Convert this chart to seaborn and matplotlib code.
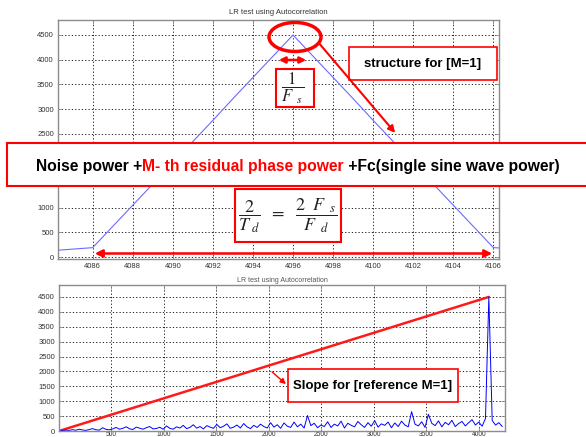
import numpy as np
import matplotlib
matplotlib.use("Agg")
import matplotlib.pyplot as plt
import seaborn as sns
from matplotlib.patches import Rectangle, Ellipse

# ---- data ----
# top panel: autocorrelation around the peak
lag_top = [4084, 4085, 4086, 4087, 4088, 4089, 4090, 4091, 4092, 4093, 4094, 4095,
           4096, 4097, 4098, 4099, 4100, 4101, 4102, 4103, 4104, 4105, 4106, 4107]
acf_top = [130, 160, 190, 620, 1050, 1480, 1910, 2340, 2770, 3210, 3640, 4070,
           4500, 4070, 3640, 3210, 2770, 2340, 1910, 1480, 1050, 620, 190, 170]

# bottom panel: whole lag range, noisy floor with the peak at 4096
lag_step = 32
acf_noise = [0, 15, 30, 20, 45, 25, 60, 35, 20, 50, 80, 40, 30, 110, 55, 40,
             70, 120, 60, 90, 140, 75, 50, 130, 95, 60, 110, 150, 70, 85, 125, 60,
             170, 90, 60, 140, 100, 190, 80, 120, 210, 95, 150, 70, 180, 130, 90, 220,
             110, 160, 240, 90, 130, 200, 100, 250, 140, 80, 190, 120, 230, 150, 100, 280,
             130, 210, 90, 270, 160, 120, 300, 140, 230, 100, 520, 180, 260, 110, 200, 150,
             310, 120, 230, 170, 330, 100, 260, 190, 140, 320, 210, 120, 280, 160, 350, 130,
             240, 190, 300, 110, 270, 150, 330, 200, 140, 650, 230, 170, 310, 120, 560, 260,
             180, 340, 140, 290, 210, 360, 150, 250, 320, 170, 280, 380, 200, 300, 160, 420,
             4500, 350, 200, 280, 150]
slope_x = [0, 4096]
slope_y = [0, 4500]

top_xticks = [4086, 4088, 4090, 4092, 4094, 4096, 4098, 4100, 4102, 4104, 4106]
yticks = [0, 500, 1000, 1500, 2000, 2500, 3000, 3500, 4000, 4500]
bot_xticks = [500, 1000, 1500, 2000, 2500, 3000, 3500, 4000]
title = "LR test using Autocorrelation"

sns.set_theme(style="white")
plt.rcParams['font.family'] = ['Liberation Sans Narrow', 'Liberation Sans', 'DejaVu Sans']
plt.rcParams['mathtext.fontset'] = 'stix'

W, H = 586, 437
fig = plt.figure(figsize=(W / 100, H / 100), dpi=100)
fig.patch.set_facecolor("white")


def px_axes(x0, y0, x1, y1):
    return fig.add_axes([x0 / W, 1 - y1 / H, (x1 - x0) / W, (y1 - y0) / H])


def matlab_style(ax, pad=3):
    ax.set_facecolor("white")
    ax.grid(True, color="black", linestyle=(0, (1.5, 2.5)), linewidth=0.6)
    for s in ax.spines.values():
        s.set_color("#8c8c8c")
        s.set_linewidth(1.0)
    ax.tick_params(direction="in", length=3, width=0.6, colors="#8c8c8c",
                   labelcolor="#333333", labelsize=5.5, pad=3,
                   top=True, right=True, bottom=True, left=True)
    ax.tick_params(axis="x", pad=pad)


ax1 = px_axes(58, 20, 499, 259)
sns.lineplot(x=lag_top, y=acf_top, ax=ax1, color="#6b6bff", linewidth=0.8)
ax1.set_xlim(4084.27, 4106.28)
ax1.set_ylim(-40, 4804)
ax1.set_xticks(top_xticks)
ax1.set_yticks(yticks)
matlab_style(ax1)
ax1.set_title(title, fontsize=5.5, color="#333333", pad=4)

ax2 = px_axes(59, 285, 505, 431)
lag_all = np.arange(len(acf_noise)) * lag_step
sns.lineplot(x=slope_x, y=slope_y, ax=ax2, color="#ff1a1a", linewidth=1.8)
sns.lineplot(x=lag_all, y=acf_noise, ax=ax2, color="#0000ff", linewidth=0.7)
ax2.set_xlim(0, 4250)
ax2.set_ylim(0, 4900)
ax2.set_xticks(bot_xticks)
ax2.set_yticks(yticks)
matlab_style(ax2, pad=0.3)
ax2.tick_params(axis="x", labelsize=4.8)
ax2.set_title(title, fontsize=5, color="#555555", pad=2)

# ---- overlay for the hand-drawn annotations (pixel coordinates) ----
ov = fig.add_axes([0, 0, 1, 1], zorder=10)
ov.set_xlim(0, W)
ov.set_ylim(H, 0)
ov.axis("off")
RED = "#ff0000"

ov.add_patch(Ellipse((295, 37), 52, 29, fill=False, ec=RED, lw=2.5))
ov.annotate("", xy=(276, 60), xytext=(309, 60),
            arrowprops=dict(arrowstyle="<|-|>", color=RED, lw=1.8, mutation_scale=9))
ov.annotate("", xy=(397, 135), xytext=(318, 42),
            arrowprops=dict(arrowstyle="-|>", color=RED, lw=1.5, mutation_scale=10))

ov.add_patch(Rectangle((276, 69), 38, 38, fc="white", ec=RED, lw=1.5))
ov.text(293, 88, r"$\dfrac{1}{F_{\ \ s}}$", fontsize=12, ha="center", va="center", color="#222222")

ov.add_patch(Rectangle((349, 47), 148, 33, fc="white", ec=RED, lw=1.2))
ov.text(423, 64, "structure for [M=1]", fontsize=9.5, fontweight="bold",
        ha="center", va="center", color="black")

ov.add_patch(Rectangle((7, 143), 590, 43, fc="white", ec=RED, lw=1.5))
parts = [("Noise power +", "black"), ("M- th residual phase power", RED),
         (" +Fc(single sine wave power)", "black")]
renderer = fig.canvas.get_renderer()
inv = ov.transData.inverted()


def place_parts(fs, keep):
    x = 36
    for s, c in parts:
        t = ov.text(x, 166, s, fontsize=fs, fontweight="bold", color=c,
                    ha="left", va="center")
        bb = t.get_window_extent(renderer)
        x = inv.transform((bb.x1, bb.y0))[0]
        if not keep:
            t.remove()
    return x - 36


fs = 15
fs = fs * 527 / place_parts(fs, False)
place_parts(fs, True)

ov.add_patch(Rectangle((235, 189), 106, 53, fc="white", ec=RED, lw=1.5))
ov.text(288, 216, r"$\dfrac{2}{T_{\ d}}\ \ =\ \ \dfrac{2\ \ F_{\ \ s}}{F_{\ \ d}}$",
        fontsize=13, ha="center", va="center", color="#222222")

ov.annotate("", xy=(92, 253.5), xytext=(495, 253.5),
            arrowprops=dict(arrowstyle="<|-|>", color=RED, lw=1.8, mutation_scale=11))

ov.add_patch(Rectangle((288, 369), 170, 33, fc="white", ec=RED, lw=1.2))
ov.text(373, 386, "Slope for [reference M=1]", fontsize=9.5, fontweight="bold",
        ha="center", va="center", color="black")
ov.annotate("", xy=(288, 386), xytext=(270, 370),
            arrowprops=dict(arrowstyle="-|>", color=RED, lw=1.0, mutation_scale=8))

fig.savefig("out.png", dpi=100, facecolor="white")
